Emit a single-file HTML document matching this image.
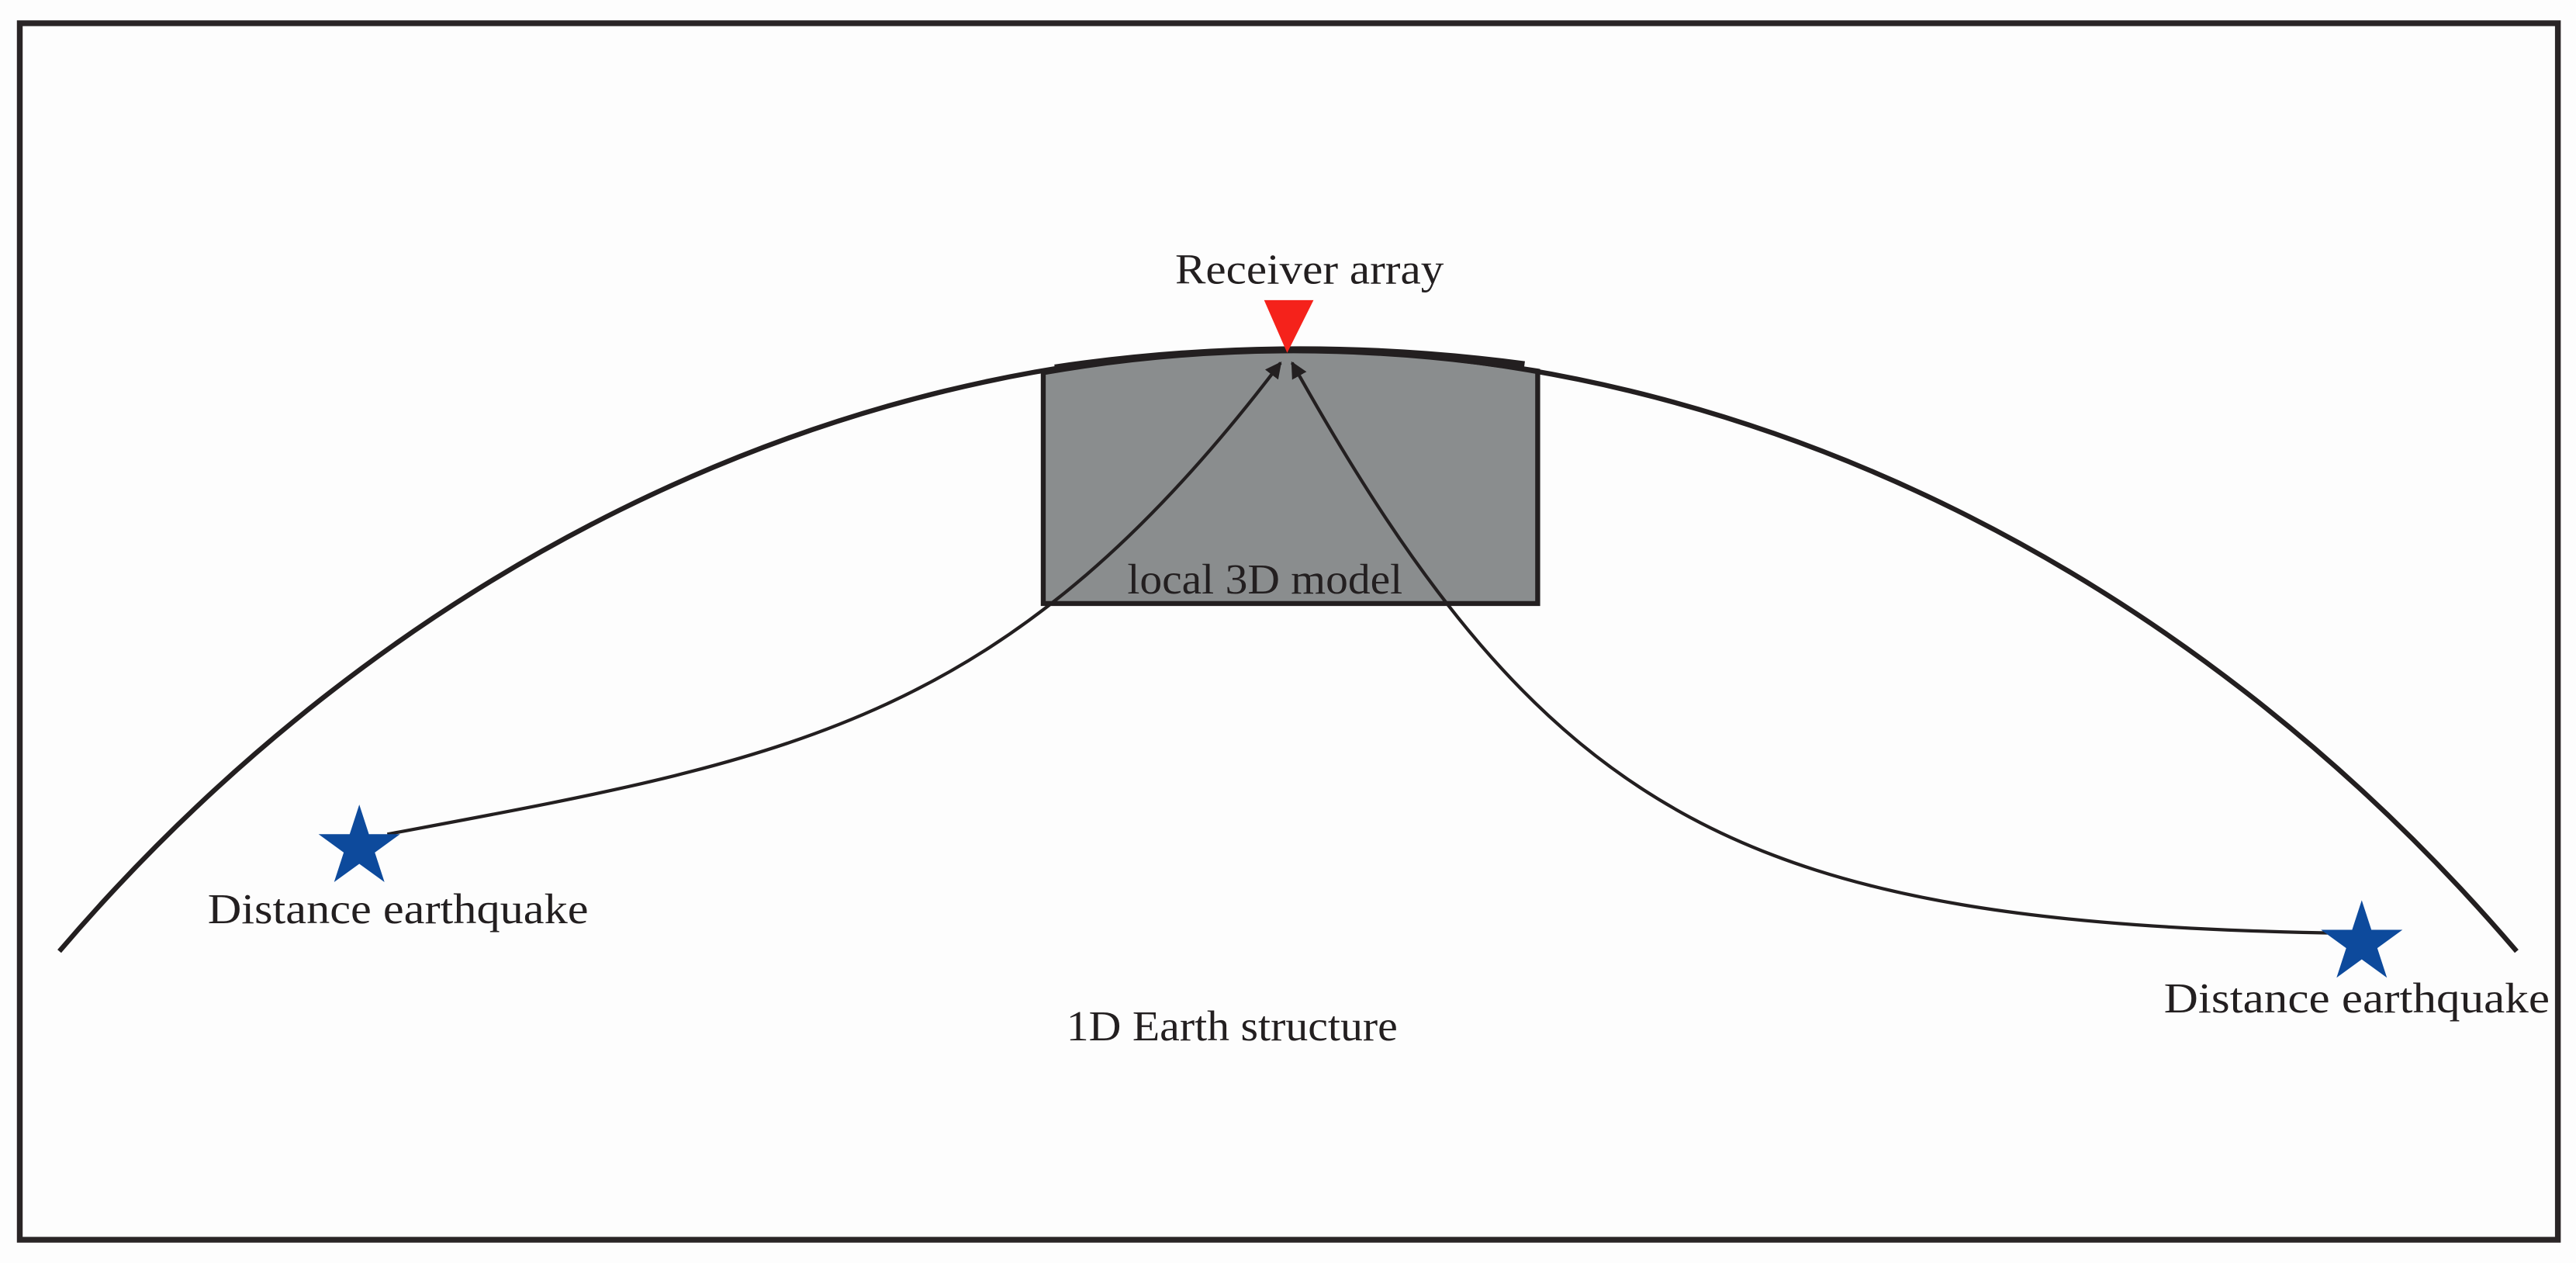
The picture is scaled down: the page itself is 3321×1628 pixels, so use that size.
<!DOCTYPE html>
<html><head><meta charset="utf-8"><style>html,body{margin:0;padding:0;background:#fdfdfd}svg{display:block}</style></head>
<body>
<svg width="3321" height="1628" viewBox="0 0 1563 766" xmlns="http://www.w3.org/2000/svg">
<defs><marker id="ah" viewBox="0 0 10 10" refX="9" refY="5" markerWidth="5" markerHeight="5" orient="auto"><path d="M0,0L10,5L0,10z" fill="#231f20"/></marker></defs>
<rect x="0" y="0" width="1563" height="766" fill="#fdfdfd"/>
<rect x="12" y="14" width="1540" height="738" fill="none" stroke="#2a2526" stroke-width="3.5"/>
<path d="M633,226 Q781,200 933,225 L933,366 L633,366 Z" fill="#8a8d8e" stroke="#231f20" stroke-width="3"/>
<path d="M36,577 C230,350 500,212 781,212 C1063,212 1333,350 1527,577" fill="none" stroke="#231f20" stroke-width="3"/>
<path d="M640,223 Q781,202 925,221" fill="none" stroke="#231f20" stroke-width="4"/>
<polygon points="767,182 797,182 781,214" fill="#f5221b"/>
<path d="M235,506 C480,460 610,440 777,220" fill="none" stroke="#231f20" stroke-width="2" marker-end="url(#ah)"/>
<path d="M1420,566 C1060,560 940,500 784,220" fill="none" stroke="#231f20" stroke-width="2" marker-end="url(#ah)"/>
<g fill="#0d4a9c">
<polygon transform="translate(218,514) scale(26)" points="0,-1 0.2245,-0.309 0.951,-0.309 0.3633,0.118 0.5878,0.809 0,0.382 -0.5878,0.809 -0.3633,0.118 -0.951,-0.309 -0.2245,-0.309"/>
<polygon transform="translate(1433,572) scale(26)" points="0,-1 0.2245,-0.309 0.951,-0.309 0.3633,0.118 0.5878,0.809 0,0.382 -0.5878,0.809 -0.3633,0.118 -0.951,-0.309 -0.2245,-0.309"/>
</g>
<g font-family="'Liberation Serif',serif" font-size="26" fill="#231f20">
<text x="713" y="172" textLength="163" lengthAdjust="spacingAndGlyphs">Receiver array</text>
<text x="684" y="360" textLength="167" lengthAdjust="spacingAndGlyphs">local 3D model</text>
<text x="126" y="560" textLength="231" lengthAdjust="spacingAndGlyphs">Distance  earthquake</text>
<text x="1313" y="614" textLength="234" lengthAdjust="spacingAndGlyphs">Distance  earthquake</text>
<text x="647" y="631" textLength="201" lengthAdjust="spacingAndGlyphs">1D Earth structure</text>
</g>
</svg>
</body></html>
